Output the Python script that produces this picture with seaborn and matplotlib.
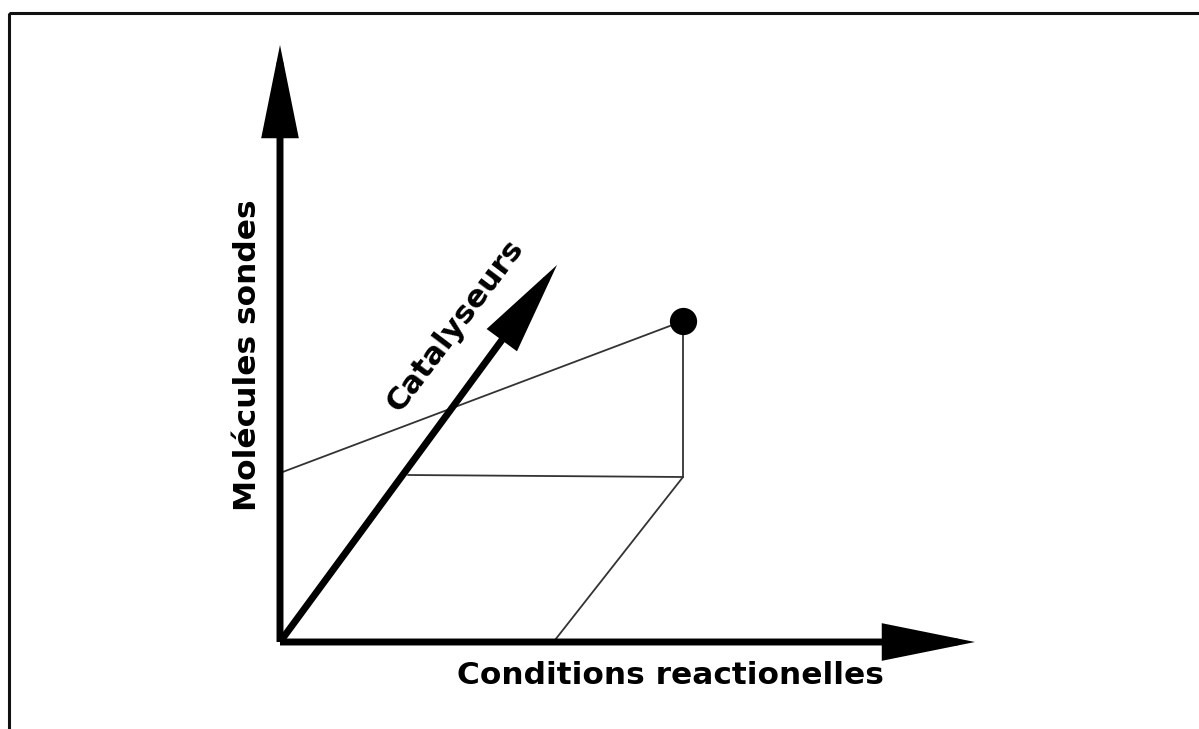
import matplotlib
matplotlib.use("Agg")
import matplotlib.pyplot as plt
import seaborn as sns
import pandas as pd
from matplotlib.patches import Rectangle

# Schema points (image coordinates, y grows downward)
origin = (280, 642)
axis_names = ["Conditions reactionelles", "Molécules sondes", "Catalyseurs"]
axis_tip_x = [975, 280, 557]
axis_tip_y = [642, 45, 265]

point_x = [683]
point_y = [321]

# thin construction lines: segment id, x, y
seg_id = [0, 0, 1, 1, 2, 2, 3, 3]
seg_x = [280, 683, 683, 683, 408, 683, 683, 555]
seg_y = [473, 321, 321, 477, 475, 477, 477, 640]

sns.set_style("white")
fig = plt.figure(figsize=(11.99, 7.29), dpi=100)
ax = fig.add_axes([0, 0, 1, 1])
ax.set_xlim(0, 1199)
ax.set_ylim(729, 0)
ax.axis("off")

# frame around the picture
ax.add_patch(Rectangle((9, 13), 1300, 800, fill=False, lw=2.2, color="#111111"))

segs = pd.DataFrame({"seg": seg_id, "x": seg_x, "y": seg_y})
for s, grp in segs.groupby("seg"):
    sns.lineplot(data=grp, x="x", y="y", sort=False, estimator=None,
                 color="#333333", lw=1.3, ax=ax, legend=False)

# three axes arrows
for tx, ty in zip(axis_tip_x, axis_tip_y):
    ax.annotate("", xy=(tx, ty), xytext=origin,
                arrowprops=dict(arrowstyle="-|>,head_length=5.2,head_width=1.05",
                                lw=5, color="black", shrinkA=0, shrinkB=0,
                                joinstyle="miter", capstyle="butt"))

sns.scatterplot(x=point_x, y=point_y, s=330, color="black", ax=ax,
                edgecolor="black", zorder=5)

ax.text(670, 676, axis_names[0], fontsize=22.5, fontweight="bold",
        ha="center", va="center", color="black")
ax.text(247, 355, axis_names[1], fontsize=22.5, fontweight="bold",
        ha="center", va="center", rotation=90, color="black")
ax.text(455, 325, axis_names[2], fontsize=22.5, fontweight="bold",
        ha="center", va="center", rotation=53, color="black")

fig.savefig("out.png", dpi=100)
